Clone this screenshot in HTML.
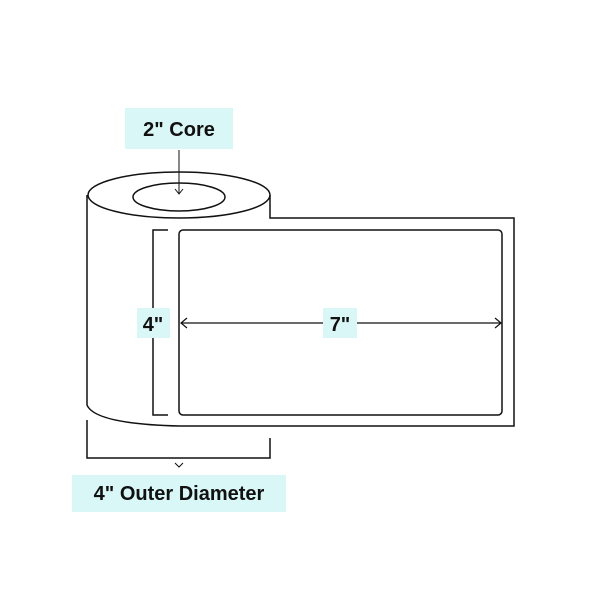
<!DOCTYPE html>
<html><head><style>body{margin:0;background:#fff}svg{display:block}</style></head><body>
<svg width="600" height="600" xmlns="http://www.w3.org/2000/svg" font-family="Liberation Sans, sans-serif">
<rect width="600" height="600" fill="#fff"/>
<g fill="none" stroke="#111" stroke-width="1.5">
<path d="M87 195 L87 405 Q95 424 180 426 L514 426 L514 218 L270 218 L270 195"/>
<ellipse cx="179" cy="195" rx="91" ry="23" fill="#fff"/>
<ellipse cx="179" cy="197" rx="46" ry="14"/>
<rect x="179" y="230" width="323" height="185" rx="4"/>
<path d="M168 230 L153 230 L153 415 L168 415"/>
<path d="M87 420 L87 458 L270 458 L270 438"/>
<path d="M175 463 L179 467 L183 463" stroke-width="1"/>
<path d="M179 150 L179 194" stroke-width="1"/>
<path d="M175 189 L179 194 L183 189" stroke-width="1"/>
<path d="M181 323 L501 323" stroke-width="1.2"/>
<path d="M187 318 L181 323 L187 328 M495 318 L501 323 L495 328" stroke-width="1.2"/>
</g>
<rect x="125" y="108" width="108" height="41" fill="#d9f7f7"/>
<text x="179" y="136" font-size="20" font-weight="bold" text-anchor="middle" fill="#111">2" Core</text>
<rect x="137" y="308" width="33" height="30" fill="#d9f7f7"/>
<text x="153" y="331" font-size="20" font-weight="bold" text-anchor="middle" fill="#111">4"</text>
<rect x="323" y="308" width="34" height="30" fill="#d9f7f7"/>
<text x="340" y="331" font-size="20" font-weight="bold" text-anchor="middle" fill="#111">7"</text>
<rect x="72" y="475" width="214" height="37" fill="#d9f7f7"/>
<text x="179" y="500" font-size="20" font-weight="bold" text-anchor="middle" fill="#111">4" Outer Diameter</text>
</svg>
</body></html>
